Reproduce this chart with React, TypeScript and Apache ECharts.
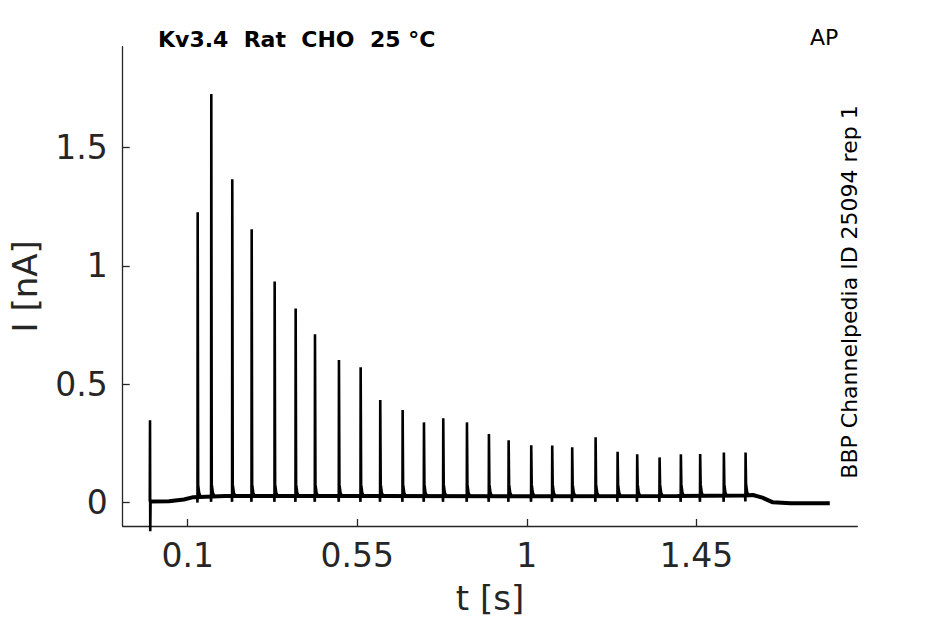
import React, { useEffect, useRef } from "react";
import * as echarts from "echarts";

// ---- data ----
const xTicks = [0.1, 0.55, 1, 1.45];
const yTicks = [0, 0.5, 1, 1.5];

// stimulus artifact at trace start
const artifactT = [0];
const artifactHigh = [0.347];
const artifactLow = [-0.122];

// action-potential-clamp current spikes
const spikeTimes = [
  0.1265, 0.1626, 0.2183, 0.2698, 0.3308, 0.3865, 0.4378, 0.5014, 0.559, 0.611,
  0.6704, 0.727, 0.7782, 0.8411, 0.8994, 0.9517, 1.0117, 1.0674, 1.1204, 1.1825,
  1.2409, 1.2929, 1.3523, 1.4088, 1.46, 1.5229, 1.5805,
];
const spikePeaks = [
  1.226, 1.726, 1.366, 1.154, 0.934, 0.819, 0.71, 0.602, 0.571, 0.433,
  0.39, 0.338, 0.355, 0.338, 0.289, 0.262, 0.241, 0.24, 0.233, 0.275,
  0.214, 0.203, 0.19, 0.203, 0.204, 0.211, 0.211,
];
const spikeBase = [
  0.024, 0.027, 0.027, 0.027, 0.027, 0.027, 0.027, 0.027, 0.027, 0.027,
  0.027, 0.027, 0.027, 0.027, 0.027, 0.027, 0.027, 0.027, 0.027, 0.027,
  0.027, 0.027, 0.027, 0.027, 0.027, 0.027, 0.029,
];

// holding-current baseline
const baselineT = [0.001, 0.05, 0.09, 0.115, 0.2, 0.6, 1.0, 1.4, 1.58, 1.6, 1.625, 1.653, 1.7, 1.804];
const baselineI = [0.004, 0.005, 0.012, 0.022, 0.027, 0.027, 0.026, 0.027, 0.029, 0.031, 0.02, 0.0, -0.004, -0.004];

// ---- build series data ----
const baselineData = baselineT.map((t, i) => [t, baselineI[i]]);

const spikeData: (number | string)[][] = [];
artifactT.forEach((t, i) => {
  spikeData.push([t - 0.0006, baselineI[0]]);
  spikeData.push([t, artifactHigh[i]]);
  spikeData.push([t + 0.0006, artifactLow[i]]);
  spikeData.push([t + 0.0015, baselineI[0]]);
  spikeData.push([t + 0.002, "-"]);
});
spikeTimes.forEach((t, i) => {
  const b = spikeBase[i];
  spikeData.push([t - 0.0015, b]);
  spikeData.push([t - 0.0005, b - 0.025]);
  spikeData.push([t, spikePeaks[i]]);
  spikeData.push([t + 0.0012, b + 0.05]);
  spikeData.push([t + 0.004, b + 0.015]);
  spikeData.push([t + 0.008, b]);
  spikeData.push([t + 0.009, "-"]);
});

const AX = "#262626";
const FONT = "DejaVu Sans";

export default function App() {
  const ref = useRef<HTMLDivElement>(null);
  useEffect(() => {
    if (!ref.current) return;
    const chart = echarts.init(ref.current, null, { renderer: "svg" });
    chart.setOption({
      animation: false,
      backgroundColor: "#ffffff",
      textStyle: { fontFamily: FONT },
      grid: {
        left: 122.7,
        right: 87.7,
        top: 46.7,
        bottom: 98,
        containLabel: false,
        outerBoundsMode: "none",
      },
      xAxis: {
        type: "value",
        min: -0.0725,
        max: 1.877,
        name: "t [s]",
        nameLocation: "middle",
        nameGap: 55,
        nameTextStyle: { fontSize: 34, color: AX, fontFamily: FONT },
        axisLine: { onZero: false, lineStyle: { color: AX, width: 1.3 } },
        axisTick: {
          inside: true,
          length: 7,
          customValues: xTicks,
          lineStyle: { color: AX, width: 1.3 },
        },
        axisLabel: {
          customValues: xTicks,
          fontSize: 33,
          color: AX,
          margin: 13,
          fontFamily: FONT,
        },
        splitLine: { show: false },
      },
      yAxis: {
        type: "value",
        min: -0.1,
        max: 1.926,
        name: "I [nA]",
        nameLocation: "middle",
        nameGap: 81,
        nameTextStyle: { fontSize: 34, color: AX, fontFamily: FONT },
        axisLine: { show: true, onZero: false, lineStyle: { color: AX, width: 1.3 } },
        axisTick: {
          show: true,
          inside: true,
          length: 7,
          customValues: yTicks,
          lineStyle: { color: AX, width: 1.3 },
        },
        axisLabel: {
          customValues: yTicks,
          fontSize: 33,
          color: AX,
          margin: 15,
          fontFamily: FONT,
        },
        splitLine: { show: false },
      },
      series: [
        {
          type: "line",
          data: baselineData,
          showSymbol: false,
          symbol: "none",
          clip: false,
          lineStyle: { color: "#000", width: 4 },
          silent: true,
        },
        {
          type: "line",
          data: spikeData,
          showSymbol: false,
          symbol: "none",
          connectNulls: false,
          clip: false,
          lineStyle: { color: "#000", width: 2.6, join: "miter" },
          silent: true,
        },
      ],
      graphic: [
        {
          type: "text",
          left: 158,
          top: 28,
          style: {
            text: "Kv3.4  Rat  CHO  25 °C",
            font: `bold 22px "${FONT}"`,
            fill: "#000",
          },
        },
        {
          type: "text",
          left: 810,
          top: 26,
          style: {
            text: "AP",
            font: `22px "${FONT}"`,
            fill: "#000",
          },
        },
        {
          type: "text",
          x: 849,
          y: 292,
          rotation: Math.PI / 2,
          style: {
            text: "BBP Channelpedia ID 25094 rep 1",
            font: `22px "${FONT}"`,
            fill: "#000",
            align: "center",
            verticalAlign: "middle",
          },
        },
      ],
    });
    return () => chart.dispose();
  }, []);
  return (
    <div
      ref={ref}
      style={{ position: "fixed", left: 0, top: 0, width: 945, height: 624 }}
    />
  );
}
